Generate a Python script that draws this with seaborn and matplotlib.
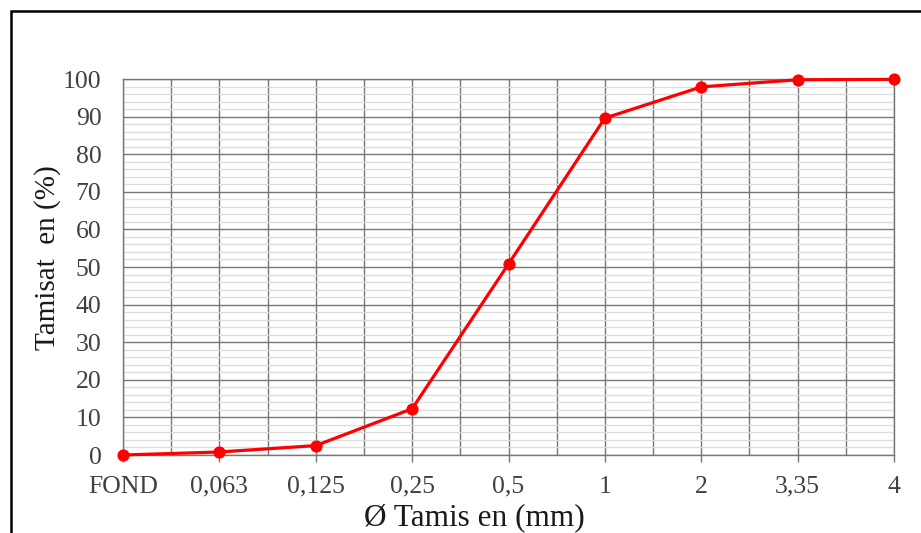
import matplotlib
matplotlib.use('Agg')
import matplotlib.pyplot as plt
import matplotlib.patches as patches
from matplotlib.ticker import MultipleLocator
import seaborn as sns

tamis = ['FOND', '0,063', '0,125', '0,25', '0,5', '1', '2', '3,35', '4']
tamisat = [0, 0.8, 2.5, 12.3, 50.8, 89.6, 97.9, 99.8, 99.9]
pos = list(range(len(tamis)))

sns.set_style('white')
plt.rcParams['font.family'] = ['Liberation Serif', 'DejaVu Serif']

fig = plt.figure(figsize=(9.21, 5.33), dpi=100)
ax = fig.add_axes([123 / 921, 1 - 455 / 533, (894 - 123) / 921, (455 - 79) / 533])

sns.lineplot(x=pos, y=tamisat, ax=ax, color='#ff0000', linewidth=2.3,
             marker='o', markersize=8, markeredgecolor='#ff0000', sort=False,
             clip_on=False, zorder=5)

ax.set_xlim(0, 8)
ax.set_ylim(0, 100)
ax.set_xticks(pos)
ax.set_xticklabels(tamis)
ax.xaxis.set_minor_locator(MultipleLocator(0.5))
ax.yaxis.set_major_locator(MultipleLocator(10))
ax.yaxis.set_minor_locator(MultipleLocator(2))

ax.grid(which='major', axis='both', color='#777777', linewidth=1.0)
ax.grid(which='minor', axis='x', color='#777777', linewidth=1.0)
ax.grid(which='minor', axis='y', color='#dcdcdc', linewidth=0.9)
ax.set_axisbelow(True)

for s in ax.spines.values():
    s.set_color('#777777')
    s.set_linewidth(1.0)

ax.tick_params(axis='x', which='major', bottom=True, length=5, width=1,
               color='#777777', labelsize=18.5, labelcolor='#404040', pad=10)
ax.tick_params(axis='x', which='minor', bottom=False, length=0)
ax.tick_params(axis='y', which='both', left=False, labelsize=18.5,
               labelcolor='#404040', pad=12)

ax.set_xlabel('Ø Tamis en (mm)', fontsize=22.5, color='#1a1a1a')
ax.xaxis.set_label_coords((474 - 123) / 771, (455 - 518) / 376)
ax.xaxis.label.set_va('center')
ax.set_ylabel('Tamisat  en (%)', fontsize=21, color='#1a1a1a')
ax.yaxis.set_label_coords((48 - 123) / 771, (455 - 258) / 376)
ax.yaxis.label.set_va('center')

fig.patches.append(patches.Rectangle((11 / 921, -0.2), 1.2, 1.2 - 11 / 533,
                                     transform=fig.transFigure, fill=False,
                                     edgecolor='black', linewidth=1.8))

fig.savefig('out.png', dpi=100)
